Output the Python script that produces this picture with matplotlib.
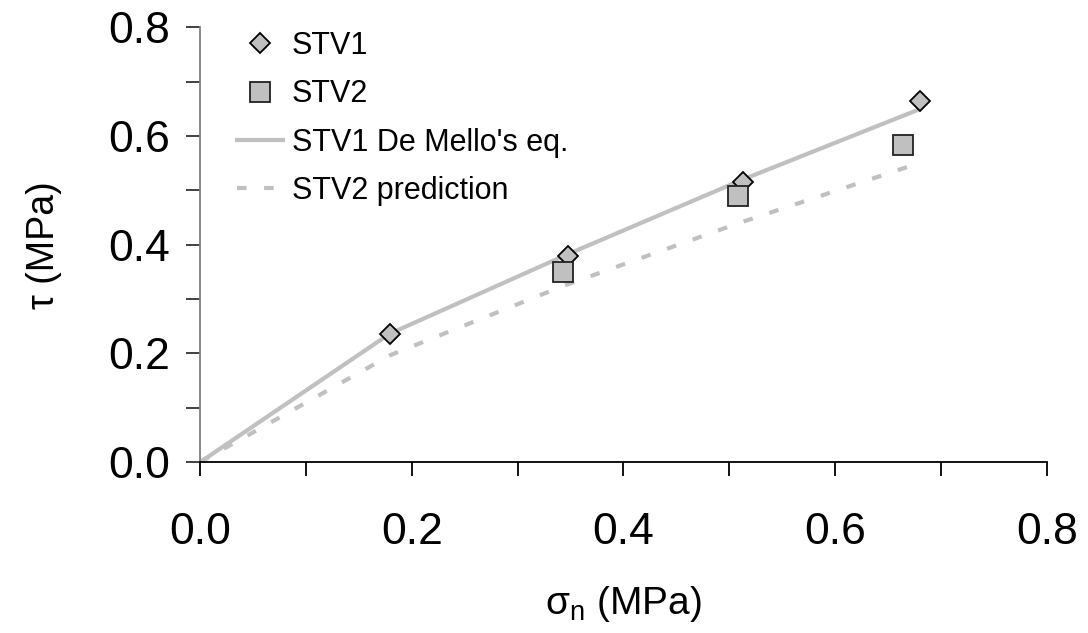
import matplotlib
matplotlib.use("Agg")
import matplotlib.pyplot as plt
from matplotlib.ticker import MultipleLocator

plt.rcParams['font.family'] = ['Liberation Sans', 'DejaVu Sans']

# Datos medidos
stv1_sigma = [0.179, 0.348, 0.513, 0.680]
stv1_tau = [0.236, 0.379, 0.515, 0.664]

stv2_sigma = [0.343, 0.508, 0.664]
stv2_tau = [0.349, 0.490, 0.583]

# Ecuacion de De Mello (STV1) y prediccion STV2
mello_sigma = [0.0, 0.179, 0.348, 0.513, 0.677]
mello_tau = [0.0, 0.236, 0.383, 0.520, 0.647]

pred_sigma = [0.0, 0.180, 0.343, 0.508, 0.670]
pred_tau = [0.0, 0.197, 0.324, 0.439, 0.544]

fig = plt.figure(figsize=(10.88, 6.33), dpi=100)
ax = fig.add_axes([0.1841, 0.2701, 0.9620 - 0.1841, 0.9569 - 0.2701])

ax.plot(mello_sigma, mello_tau, color='#c0c0c0', lw=3, label="STV1 De Mello's eq.", zorder=2)
ax.plot(pred_sigma, pred_tau, color='#c0c0c0', lw=3, linestyle=(0, (2.3, 4.2)),
        label='STV2 prediction', zorder=2)
ax.plot(stv1_sigma, stv1_tau, 'D', ms=10.5, mfc='#c0c0c0', mec='black', mew=1.3,
        label='STV1', zorder=3)
ax.plot(stv2_sigma, stv2_tau, 's', ms=15, mfc='#c0c0c0', mec='#222222', mew=1.3,
        label='STV2', zorder=3)

ax.set_xlim(0, 0.8)
ax.set_ylim(0, 0.8)
ax.xaxis.set_major_locator(MultipleLocator(0.2))
ax.xaxis.set_minor_locator(MultipleLocator(0.1))
ax.yaxis.set_major_locator(MultipleLocator(0.2))
ax.yaxis.set_minor_locator(MultipleLocator(0.1))
ax.xaxis.set_major_formatter(lambda v, p: f'{v:.1f}')
ax.yaxis.set_major_formatter(lambda v, p: f'{v:.1f}')

ax.spines['top'].set_visible(False)
ax.spines['right'].set_visible(False)
ax.spines['left'].set_color('#7f7f7f')
ax.spines['left'].set_linewidth(1.3)
ax.spines['bottom'].set_color('black')
ax.spines['bottom'].set_linewidth(1.3)

ax.tick_params(axis='both', which='both', direction='out', length=10, width=1.3,
               labelsize=32, pad=12)
ax.tick_params(axis='y', which='both', color='#333333')
ax.tick_params(axis='x', which='both', color='black', pad=26)

ax.set_xlabel('$\\mathregular{σ_n}$ (MPa)', fontsize=28, labelpad=22)
ax.set_ylabel('τ (MPa)', fontsize=27, labelpad=33)

handles, labels = ax.get_legend_handles_labels()
order = [2, 3, 0, 1]
fig.legend([handles[i] for i in order], [labels[i] for i in order],
           loc='upper left', bbox_to_anchor=(237 / 1088, 1 - 31 / 633),
           frameon=False, fontsize=22, handlelength=1.5, handletextpad=0.3,
           labelspacing=0.6, borderpad=0, borderaxespad=0)

fig.savefig('out.png', dpi=100)
